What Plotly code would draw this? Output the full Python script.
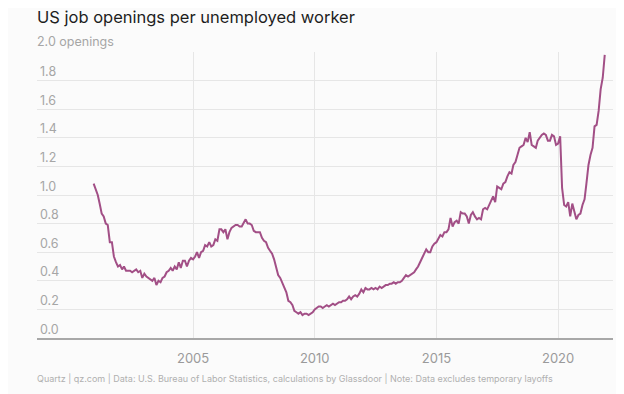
import plotly.graph_objects as go

# Monthly ratio of job openings per unemployed worker
start_value_dec_2000 = [1.08]
v2001 = [1.04, 1.00, 0.94, 0.87, 0.85, 0.80, 0.79, 0.67, 0.67, 0.57, 0.53, 0.50]
v2002 = [0.51, 0.48, 0.50, 0.47, 0.47, 0.47, 0.46, 0.47, 0.48, 0.46, 0.47, 0.42]
v2003 = [0.45, 0.43, 0.42, 0.41, 0.40, 0.42, 0.37, 0.40, 0.39, 0.42, 0.43, 0.46]
v2004 = [0.47, 0.49, 0.47, 0.50, 0.48, 0.53, 0.49, 0.54, 0.54, 0.50, 0.54, 0.56]
v2005 = [0.55, 0.57, 0.60, 0.56, 0.60, 0.61, 0.65, 0.64, 0.67, 0.64, 0.65, 0.69]
v2006 = [0.68, 0.76, 0.76, 0.74, 0.76, 0.69, 0.74, 0.77, 0.78, 0.79, 0.79, 0.78]
v2007 = [0.78, 0.81, 0.83, 0.80, 0.80, 0.79, 0.75, 0.74, 0.74, 0.74, 0.70, 0.68]
v2008 = [0.67, 0.63, 0.61, 0.59, 0.55, 0.49, 0.44, 0.42, 0.39, 0.35, 0.32, 0.26]
v2009 = [0.25, 0.23, 0.19, 0.18, 0.17, 0.18, 0.16, 0.17, 0.17, 0.16, 0.17, 0.18]
v2010 = [0.20, 0.21, 0.22, 0.22, 0.21, 0.22, 0.23, 0.22, 0.23, 0.24, 0.23, 0.24]
v2011 = [0.25, 0.25, 0.26, 0.26, 0.27, 0.29, 0.27, 0.29, 0.30, 0.29, 0.31, 0.34]
v2012 = [0.32, 0.35, 0.34, 0.34, 0.35, 0.34, 0.35, 0.34, 0.36, 0.35, 0.36, 0.37]
v2013 = [0.37, 0.38, 0.38, 0.39, 0.38, 0.39, 0.39, 0.40, 0.42, 0.44, 0.43, 0.44]
v2014 = [0.45, 0.46, 0.48, 0.50, 0.53, 0.56, 0.58, 0.62, 0.60, 0.60, 0.64, 0.66]
v2015 = [0.67, 0.70, 0.72, 0.71, 0.74, 0.74, 0.76, 0.84, 0.78, 0.81, 0.82, 0.80]
v2016 = [0.88, 0.87, 0.87, 0.85, 0.80, 0.86, 0.88, 0.85, 0.83, 0.84, 0.83, 0.90]
v2017 = [0.91, 0.90, 0.93, 0.96, 0.99, 0.95, 1.06, 1.05, 1.04, 1.08, 1.09, 1.13]
v2018 = [1.16, 1.15, 1.21, 1.23, 1.29, 1.33, 1.34, 1.35, 1.40, 1.37, 1.44, 1.35]
v2019 = [1.34, 1.33, 1.38, 1.40, 1.42, 1.43, 1.42, 1.38, 1.38, 1.42, 1.41, 1.35]
v2020 = [1.36, 1.41, 1.05, 0.93, 0.92, 0.95, 0.85, 0.94, 0.88, 0.83, 0.86, 0.87]
v2021 = [0.93, 0.97, 1.08, 1.21, 1.28, 1.33, 1.48, 1.49, 1.59, 1.74, 1.82, 1.98]

yearly = [v2001, v2002, v2003, v2004, v2005, v2006, v2007, v2008, v2009, v2010,
          v2011, v2012, v2013, v2014, v2015, v2016, v2017, v2018, v2019, v2020, v2021]

y_tick_values = [0.0, 0.2, 0.4, 0.6, 0.8, 1.0, 1.2, 1.4, 1.6, 1.8, 2.0]
y_tick_labels = ["0.0", "0.2", "0.4", "0.6", "0.8", "1.0", "1.2", "1.4", "1.6", "1.8", ""]
top_tick_label = "2.0 openings"
x_tick_values = ["2005-01-01", "2010-01-01", "2015-01-01", "2020-01-01"]
x_tick_labels = ["2005", "2010", "2015", "2020"]

dates = ["2000-12-01"]
values = list(start_value_dec_2000)
for i, row in enumerate(yearly):
    year = 2001 + i
    for m, v in enumerate(row):
        dates.append(f"{year}-{m + 1:02d}-01")
        values.append(v)

FONT = "Inter, Roboto, 'Open Sans', sans-serif"
BG = "#fbfbfb"
TICK_FONT = dict(size=12.5, color="#a6a6a6", family=FONT)

# page body has an 8px default margin, so the figure is sized/offset to compensate
fig = go.Figure()
fig.add_trace(go.Scatter(
    x=dates, y=values, mode="lines",
    line=dict(color="#a24f86", width=2),
    hoverinfo="skip", showlegend=False,
))

PLOT_H = 286
fig.update_layout(
    width=616, height=386,
    margin=dict(l=29, r=11, t=44, b=56, autoexpand=False),
    paper_bgcolor=BG, plot_bgcolor=BG,
    font=dict(family=FONT),
    xaxis=dict(
        type="date",
        range=["1998-08-04", "2022-04-04"],
        tickvals=x_tick_values, ticktext=x_tick_labels,
        showgrid=True, gridcolor="#e6e6e6", gridwidth=1,
        showline=True, linecolor="#a8a8a8", linewidth=2,
        ticks="", tickfont=dict(size=13, color="#9a9a9a", family=FONT),
        ticklabelstandoff=7,
        zeroline=False, fixedrange=True, automargin=False,
    ),
    yaxis=dict(
        range=[0, 2.0],
        tickvals=y_tick_values, ticktext=y_tick_labels,
        ticklabelposition="inside top",
        showgrid=True, gridcolor="#e6e6e6", gridwidth=1,
        showline=False, zeroline=False,
        ticks="", tickfont=TICK_FONT,
        fixedrange=True, automargin=False,
    ),
    annotations=[
        dict(text=top_tick_label,
             xref="paper", yref="y", x=0, y=2.0,
             xanchor="left", yanchor="bottom", yshift=1, xshift=-2,
             showarrow=False, font=TICK_FONT),
        dict(text="US job openings per unemployed worker",
             xref="paper", yref="paper", x=0, y=(338 - 17) / PLOT_H,
             xanchor="left", yanchor="middle", showarrow=False, xshift=-2,
             font=dict(size=16.5, color="#1e1e1e", family=FONT)),
        dict(text="Quartz | qz.com | Data: U.S. Bureau of Labor Statistics, calculations by Glassdoor | Note: Data excludes temporary layoffs",
             xref="paper", yref="paper", x=0, y=(338 - 378) / PLOT_H,
             xanchor="left", yanchor="middle", showarrow=False, xshift=-2,
             font=dict(size=9, color="#b0b0b0", family=FONT)),
    ],
)

fig.write_html("out.html")
